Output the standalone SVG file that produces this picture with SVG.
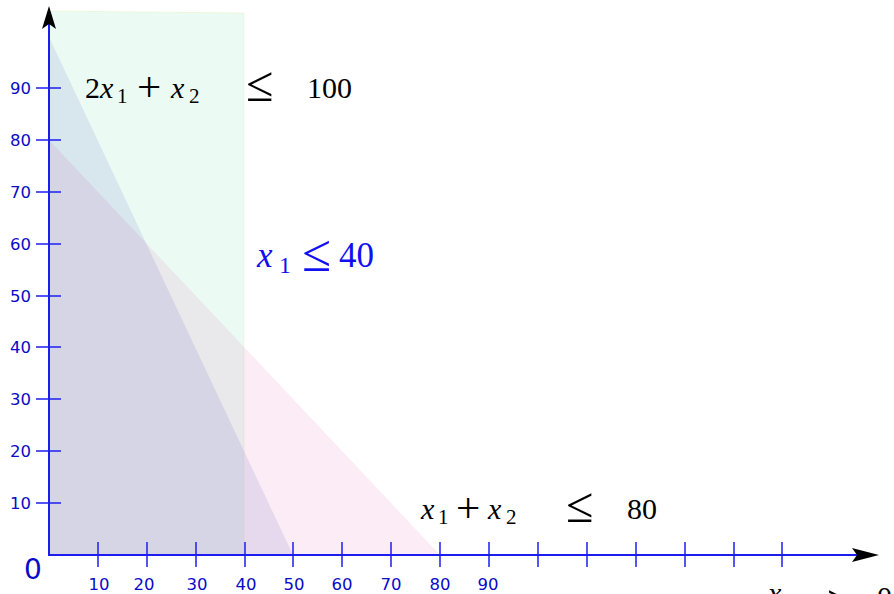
<svg xmlns="http://www.w3.org/2000/svg" width="894" height="594" viewBox="0 0 894 594">
<style>
.math{font-family:"Liberation Serif","DejaVu Serif",serif;font-size:30px;fill:#000}
.it{font-style:italic}
.sub{font-size:21px}
.plus{font-size:43px}
.le{font-size:50px}
.lbl{font-family:"DejaVu Sans","Liberation Sans",sans-serif;font-size:16.5px;fill:#0a0ac8}
.axis{stroke:#1c1cf0;stroke-width:2;fill:none}
.tick{stroke:#1c1cf0;stroke-width:1.5;fill:none}
.head{fill:#000}
</style>
<rect width="894" height="594" fill="#fff"/>
<g id="regions">
  <polygon id="x1le40" points="49,11 244,13 244,555 49,555" fill="#22d080" fill-opacity="0.09" stroke="#c8e070" stroke-opacity="0.2" stroke-width="1"/>
  <polygon id="sum80" points="49,140 440,555 49,555" fill="#e060b0" fill-opacity="0.12"/>
  <polygon id="twox100" points="49,37 293,555 49,555" fill="#5050c0" fill-opacity="0.12"/>
</g>
<g id="connectors">
  <line class="axis" x1="49" y1="555" x2="49" y2="24"/>
  <line class="axis" x1="48" y1="555" x2="858" y2="555"/>
  <path class="head" d="M49,6 L56,29 L49,24 L42,29 Z"/>
  <path class="head" d="M879,555 L852,548 L857,555 L852,562 Z"/>
  <g id="yticks">
    <line class="tick" x1="36" y1="503" x2="61" y2="503"/>
    <line class="tick" x1="36" y1="451" x2="61" y2="451"/>
    <line class="tick" x1="36" y1="399" x2="61" y2="399"/>
    <line class="tick" x1="36" y1="347" x2="61" y2="347"/>
    <line class="tick" x1="36" y1="296" x2="61" y2="296"/>
    <line class="tick" x1="36" y1="244" x2="61" y2="244"/>
    <line class="tick" x1="36" y1="192" x2="61" y2="192"/>
    <line class="tick" x1="36" y1="140" x2="61" y2="140"/>
    <line class="tick" x1="36" y1="88" x2="61" y2="88"/>
  </g>
  <g id="xticks">
    <line class="tick" x1="98" y1="542" x2="98" y2="567"/>
    <line class="tick" x1="147" y1="542" x2="147" y2="567"/>
    <line class="tick" x1="196" y1="542" x2="196" y2="567"/>
    <line class="tick" x1="245" y1="542" x2="245" y2="567"/>
    <line class="tick" x1="293" y1="542" x2="293" y2="567"/>
    <line class="tick" x1="342" y1="542" x2="342" y2="567"/>
    <line class="tick" x1="391" y1="542" x2="391" y2="567"/>
    <line class="tick" x1="440" y1="542" x2="440" y2="567"/>
    <line class="tick" x1="489" y1="542" x2="489" y2="567"/>
    <line class="tick" x1="538" y1="542" x2="538" y2="567"/>
    <line class="tick" x1="587" y1="542" x2="587" y2="567"/>
    <line class="tick" x1="636" y1="542" x2="636" y2="567"/>
    <line class="tick" x1="685" y1="542" x2="685" y2="567"/>
    <line class="tick" x1="734" y1="542" x2="734" y2="567"/>
    <line class="tick" x1="782" y1="542" x2="782" y2="567"/>
  </g>
</g>
<g id="ylabels" class="lbl" text-anchor="end">
  <text x="31" y="509">10</text>
  <text x="31" y="457">20</text>
  <text x="31" y="405">30</text>
  <text x="31" y="353">40</text>
  <text x="31" y="302">50</text>
  <text x="31" y="250">60</text>
  <text x="31" y="198">70</text>
  <text x="31" y="146">80</text>
  <text x="31" y="94">90</text>
</g>
<g id="xlabels" class="lbl" text-anchor="middle">
  <text x="99" y="590">10</text>
  <text x="144" y="590">20</text>
  <text x="197" y="590">30</text>
  <text x="246" y="590">40</text>
  <text x="294" y="590">50</text>
  <text x="342" y="590">60</text>
  <text x="391" y="590">70</text>
  <text x="440" y="590">80</text>
  <text x="488" y="590">90</text>
</g>
<g id="origin">
  <text x="33" y="579" text-anchor="middle" font-family="DejaVu Sans, Liberation Sans, sans-serif" font-size="28" fill="#0a0ac8">0</text>
</g>
<g id="c1">
  <text class="math"><tspan x="85" y="98">2</tspan><tspan class="it" x="100" y="98">x</tspan><tspan class="sub" x="117" y="103">1</tspan><tspan class="plus" x="137" y="101">+</tspan><tspan class="it" x="171" y="98">x</tspan><tspan class="sub" x="189" y="103">2</tspan><tspan class="le" x="246" y="101">≤</tspan><tspan x="307" y="98">100</tspan></text>
</g>
<g id="c2">
  <text class="math" style="font-size:35px;fill:#1010f0"><tspan class="it" x="257" y="267">x</tspan><tspan x="279" y="273" style="font-size:24px">1</tspan><tspan x="302" y="271" style="font-size:53px">≤</tspan><tspan x="339" y="267">40</tspan></text>
</g>
<g id="c3">
  <text class="math"><tspan class="it" x="421" y="519">x</tspan><tspan class="sub" x="438" y="524">1</tspan><tspan class="plus" x="456" y="522">+</tspan><tspan class="it" x="488" y="519">x</tspan><tspan class="sub" x="506" y="524">2</tspan><tspan class="le" x="566" y="522">≤</tspan><tspan x="627" y="519">80</tspan></text>
</g>
<g id="c4">
  <text class="math"><tspan class="it" x="768" y="603">x</tspan><tspan class="sub" x="785" y="608">1</tspan><tspan class="le" x="827" y="619">≥</tspan><tspan x="877" y="607">0</tspan></text>
</g>
</svg>
